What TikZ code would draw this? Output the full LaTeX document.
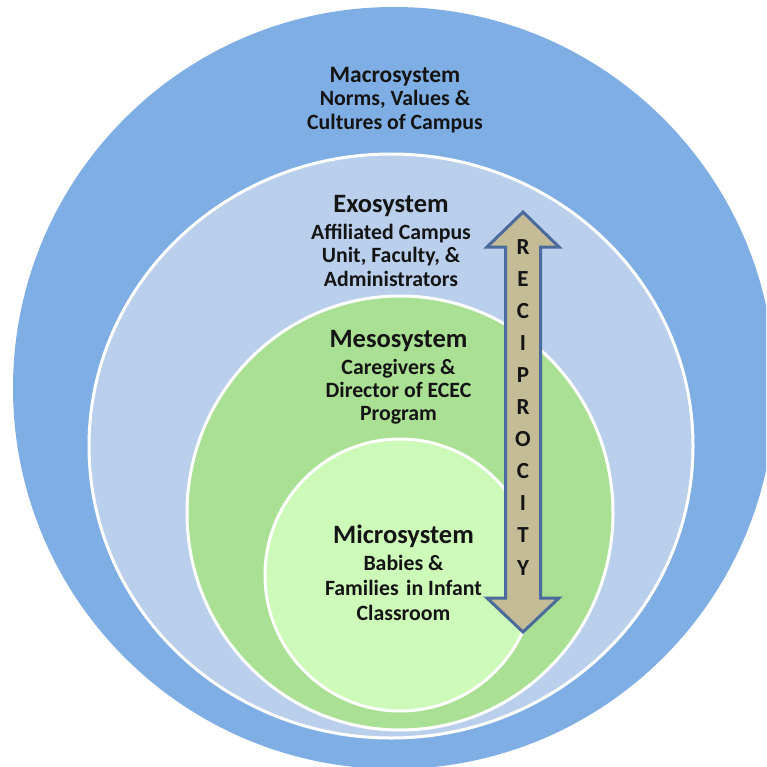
\documentclass[tikz,border=0pt]{standalone}
\usepackage{fontspec}
\setmainfont{Carlito}
\definecolor{macroblue}{HTML}{7FAEE4}
\definecolor{exoblue}{HTML}{B9CFEC}
\definecolor{mesogreen}{HTML}{A9E094}
\definecolor{microgreen}{HTML}{CDFAB9}
\definecolor{arrowtan}{HTML}{C4BC96}
\definecolor{arrowline}{HTML}{4A6B9B}
\definecolor{ink}{HTML}{141414}
\begin{document}
\begin{tikzpicture}[x=1pt,y=-1pt,
  ring/.style={draw=white,line width=3pt},
  systitle/.style={anchor=base,inner sep=0pt,text=ink,font=\bfseries\fontsize{26.5}{30}\selectfont},
  sysline/.style={anchor=base,inner sep=0pt,text=ink,font=\bfseries\fontsize{21.8}{24}\selectfont},
  letter/.style={anchor=base,inner sep=0pt,text=ink,font=\bfseries\fontsize{23}{24}\selectfont},
  bigarrow/.style={fill=arrowtan,draw=arrowline,line width=3pt,line join=miter}]
\useasboundingbox (0,0) rectangle (766,767);
\clip (0,0) rectangle (766,767);

% nested systems, outermost first
\fill[macroblue] (394,388) circle[radius=381pt];
\filldraw[fill=exoblue,ring] (391,446) ellipse[x radius=302pt,y radius=292pt];
\filldraw[fill=mesogreen,ring] (400,513) ellipse[x radius=213pt,y radius=217pt];
\filldraw[fill=microgreen,ring] (400,575) ellipse[x radius=135pt,y radius=136pt];

% double-headed reciprocity arrow
\draw[bigarrow] (523,212) -- (559,247) -- (540.5,247) -- (540.5,598) -- (559,598)
  -- (523,632) -- (487,598) -- (505.5,598) -- (505.5,247) -- (487,247) -- cycle;
\foreach \ch [count=\i from 0] in {R,E,C,I,P,R,O,C,I,T,Y}
  \node[letter] (rec\i) at (523,{254+32.1*\i}) {\ch};

% macrosystem
\node[systitle,font=\bfseries\fontsize{23.5}{28}\selectfont] (mac0) at (395,82.5) {Macrosystem};
\node[sysline] (mac1) at (395,106) {Norms, Values \&};
\node[sysline] (mac2) at (395,130) {Cultures of Campus};

% exosystem
\node[systitle] (exo0) at (391,212.5) {Exosystem};
\node[sysline] (exo1) at (391,239) {Affiliated Campus};
\node[sysline] (exo2) at (391,262) {Unit, Faculty, \&};
\node[sysline] (exo3) at (391,286) {Administrators};

% mesosystem
\node[systitle] (mes0) at (398.5,347) {Mesosystem};
\node[sysline] (mes1) at (398.5,374) {Caregivers \&};
\node[sysline] (mes2) at (398.5,397) {Director of ECEC};
\node[sysline] (mes3) at (398.5,420) {Program};

% microsystem
\node[systitle] (mic0) at (403.5,543) {Microsystem};
\node[sysline] (mic1) at (403.5,570) {Babies \&};
\node[sysline] (mic2) at (403.5,595) {Families\hspace{0.12em} in Infant};
\node[sysline] (mic3) at (403.5,620) {Classroom};
\end{tikzpicture}
\end{document}
